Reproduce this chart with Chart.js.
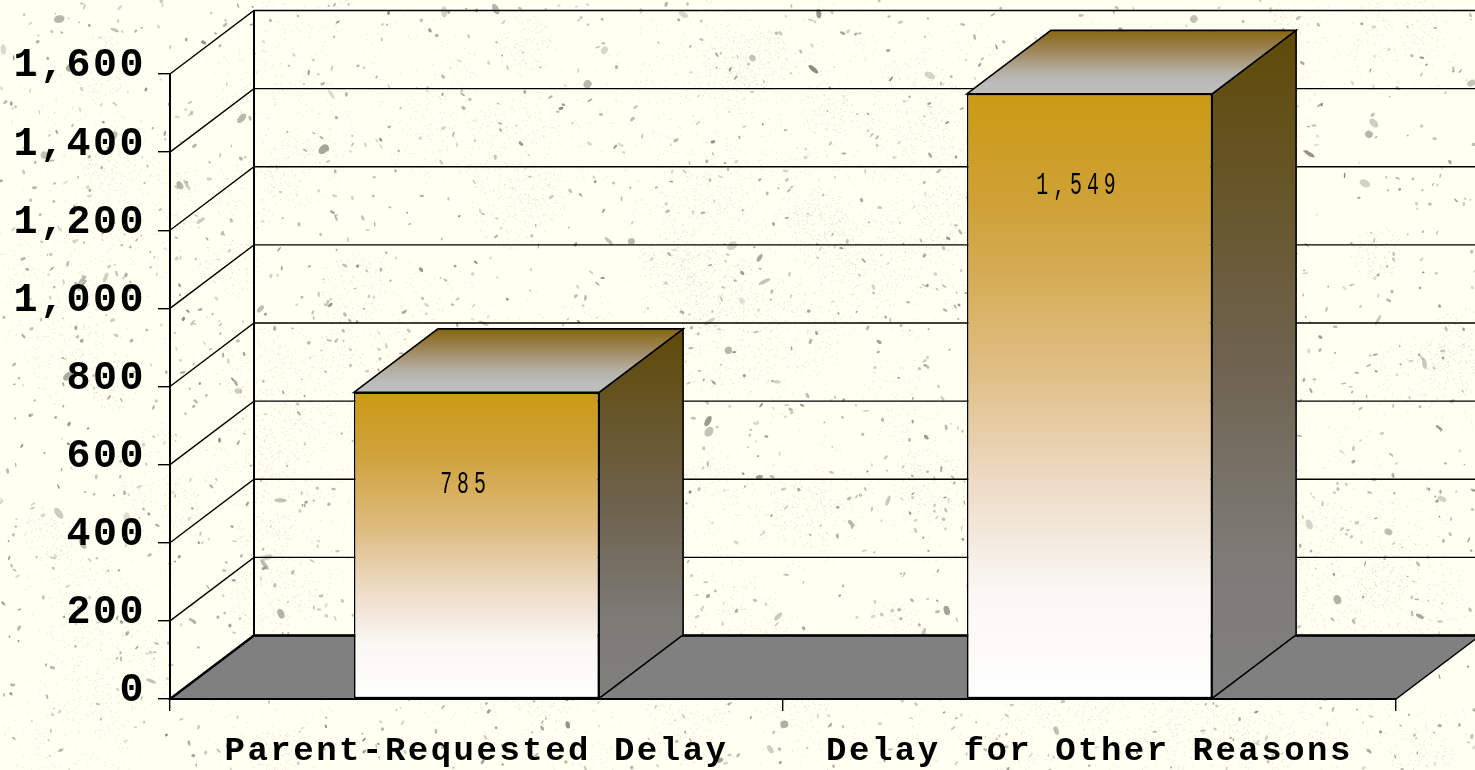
<!DOCTYPE html>
<html><head><meta charset="utf-8">
<style>html,body{margin:0;padding:0;background:#fffff2;overflow:hidden}canvas{display:block}</style>
<script src="https://cdn.jsdelivr.net/npm/chart.js@4/dist/chart.umd.min.js"></script>
</head><body>
<canvas id="c" width="1475" height="770"></canvas>
<script>
const categories = ["Parent-Requested Delay", "Delay for Other Reasons"];
const delayValues = [785, 1549];
const axisMax = 1600;
const axisStep = 200;

const DX = 84, DY = -63.5;
const INK = '#000';
const FONT = '"Liberation Mono", monospace';

function speckle(ctx, w, h) {
  let s = 48271;
  const r = () => (s = (s * 16807) % 2147483647) / 2147483647;
  ctx.save();
  ctx.fillStyle = '#fffff2';
  ctx.fillRect(0, 0, w, h);
  // soft cloudy patches of fine dots
  for (let i = 0; i < 170; i++) {
    const cx = r() * w, cy = r() * h, rad = 25 + r() * 50;
    ctx.fillStyle = 'rgba(165,165,145,0.28)';
    for (let k = 0; k < 130; k++) {
      const a = r() * 6.283, d = Math.sqrt(r()) * rad;
      ctx.fillRect(cx + Math.cos(a) * d, cy + Math.sin(a) * d, 1, 1);
    }
  }
  // scattered flecks
  for (let i = 0; i < 2300; i++) {
    const x = r() * w, y = r() * h, big = r();
    const rx = big > 0.95 ? 3.5 + r() * 3 : 0.8 + r() * 2.2;
    const ry = big > 0.95 ? 1.5 + r() * 2.5 : 0.7 + r() * 1;
    const g = 115 + Math.floor(r() * 65);
    ctx.fillStyle = `rgba(${g},${g},${g - 15},${0.35 + r() * 0.5})`;
    ctx.beginPath();
    ctx.ellipse(x, y, rx, ry, r() * 3.14, 0, 6.283);
    ctx.fill();
  }
  ctx.restore();
}

function poly(ctx, pts, fill, lw) {
  ctx.beginPath();
  pts.forEach((p, i) => i ? ctx.lineTo(p[0], p[1]) : ctx.moveTo(p[0], p[1]));
  ctx.closePath();
  if (fill) { ctx.fillStyle = fill; ctx.fill(); }
  if (lw) { ctx.lineWidth = lw; ctx.strokeStyle = INK; ctx.stroke(); }
}

function vGrad(ctx, y0, y1, stops) {
  const g = ctx.createLinearGradient(0, y0, 0, y1);
  stops.forEach(s => g.addColorStop(s[0], s[1]));
  return g;
}

const frontGradient = (ctx, top, bottom) => vGrad(ctx, top, bottom, [
  [0, '#cb9a14'], [0.2, '#cfa23a'], [0.45, '#dfbd82'], [0.65, '#eedcc8'],
  [0.82, '#faf7f4'], [1, '#ffffff']
]);

const scene = {
  id: 'scene',
  beforeDraw(chart) {
    const { ctx, width, height, chartArea: a, scales: { y } } = chart;
    speckle(ctx, width, height);
    ctx.save();
    ctx.lineCap = 'butt';
    // floor
    poly(ctx, [[a.left, a.bottom], [a.left + DX, a.bottom + DY], [a.right + DX, a.bottom + DY], [a.right, a.bottom]], '#808080', 1.4);
    // walls: grid lines follow the value axis
    y.ticks.forEach(t => {
      const py = y.getPixelForValue(t.value);
      ctx.beginPath();
      ctx.moveTo(a.left, py);
      ctx.lineTo(a.left + DX, py + DY);
      ctx.lineTo(a.right + DX, py + DY);
      ctx.lineWidth = t.value === 0 ? 2.4 : 1.4;
      ctx.strokeStyle = INK;
      ctx.stroke();
    });
    ctx.beginPath();
    ctx.moveTo(a.left + DX, a.top + DY);
    ctx.lineTo(a.left + DX, a.bottom + DY);
    ctx.lineWidth = 2;
    ctx.stroke();
    ctx.restore();
    ctx.letterSpacing = '2.5px';
  },
  beforeDatasetsDraw(chart) {
    const ctx = chart.ctx;
    chart.getDatasetMeta(0).data.forEach(b => {
      const l = b.x - b.width / 2, r = b.x + b.width / 2, t = b.y, bot = b.base;
      ctx.save();
      poly(ctx, [[r, t], [r + DX, t + DY], [r + DX, bot + DY], [r, bot]],
        vGrad(ctx, t + DY, bot, [[0, '#5f4a06'], [0.5, '#6f6350'], [0.78, '#7d7b76'], [1, '#808080']]), 1.6);
      poly(ctx, [[l, t], [l + DX, t + DY], [r + DX, t + DY], [r, t]],
        vGrad(ctx, t + DY, t, [[0, '#86660f'], [0.3, '#9c8455'], [0.65, '#b5b0a4'], [0.85, '#bcbcbc'], [1, '#bebebe']]), 1.6);
      ctx.restore();
    });
  },
  afterDatasetsDraw(chart) {
    const ctx = chart.ctx;
    chart.getDatasetMeta(0).data.forEach((b, i) => {
      ctx.save();
      ctx.letterSpacing = '8px';
      ctx.font = `32px ${FONT}`;
      ctx.fillStyle = INK;
      ctx.textAlign = 'center';
      ctx.textBaseline = 'middle';
      ctx.translate(b.x - 11, b.y + 92);
      ctx.scale(0.62, 1);
      ctx.fillText(delayValues[i].toLocaleString('en-US'), 0, 0);
      ctx.restore();
    });
  }
};

new Chart(document.getElementById('c').getContext('2d'), {
  type: 'bar',
  plugins: [scene],
  data: {
    labels: categories,
    datasets: [{
      data: delayValues,
      barPercentage: 0.4,
      categoryPercentage: 1,
      borderColor: INK,
      borderWidth: 1.6,
      borderSkipped: false,
      backgroundColor(c) {
        const y = c.chart.scales.y;
        if (!y || c.raw === undefined) return '#cb9a14';
        const top = y.getPixelForValue(c.raw), bottom = y.getPixelForValue(0);
        if (!isFinite(top) || !isFinite(bottom)) return '#cb9a14';
        return frontGradient(c.chart.ctx, top, bottom);
      }
    }]
  },
  options: {
    responsive: false,
    animation: false,
    layout: { padding: { left: 0, right: 79, top: 74, bottom: 0 } },
    plugins: { legend: { display: false }, tooltip: { enabled: false }, title: { display: false } },
    scales: {
      x: {
        afterFit(s) { s.height = 71; },
        grid: { drawOnChartArea: false, drawTicks: true, tickLength: 12, color: INK, lineWidth: 1.4 },
        border: { display: true, color: INK, width: 2 },
        ticks: { color: INK, padding: 23, maxRotation: 0, autoSkip: false, font: { family: FONT, size: 34, weight: 'bold', lineHeight: 1 } }
      },
      y: {
        min: 0, max: axisMax,
        afterFit(s) { s.width = 170; },
        grid: { drawOnChartArea: false, drawTicks: true, tickLength: 12, color: INK, lineWidth: 1.4 },
        border: { display: true, color: INK, width: 2 },
        ticks: {
          stepSize: axisStep, color: INK, padding: 12,
          font: { family: FONT, size: 40, weight: 'bold', lineHeight: 0.38 },
          callback: v => [Number(v).toLocaleString('en-US'), '']
        }
      }
    }
  }
});
</script>
</body></html>
